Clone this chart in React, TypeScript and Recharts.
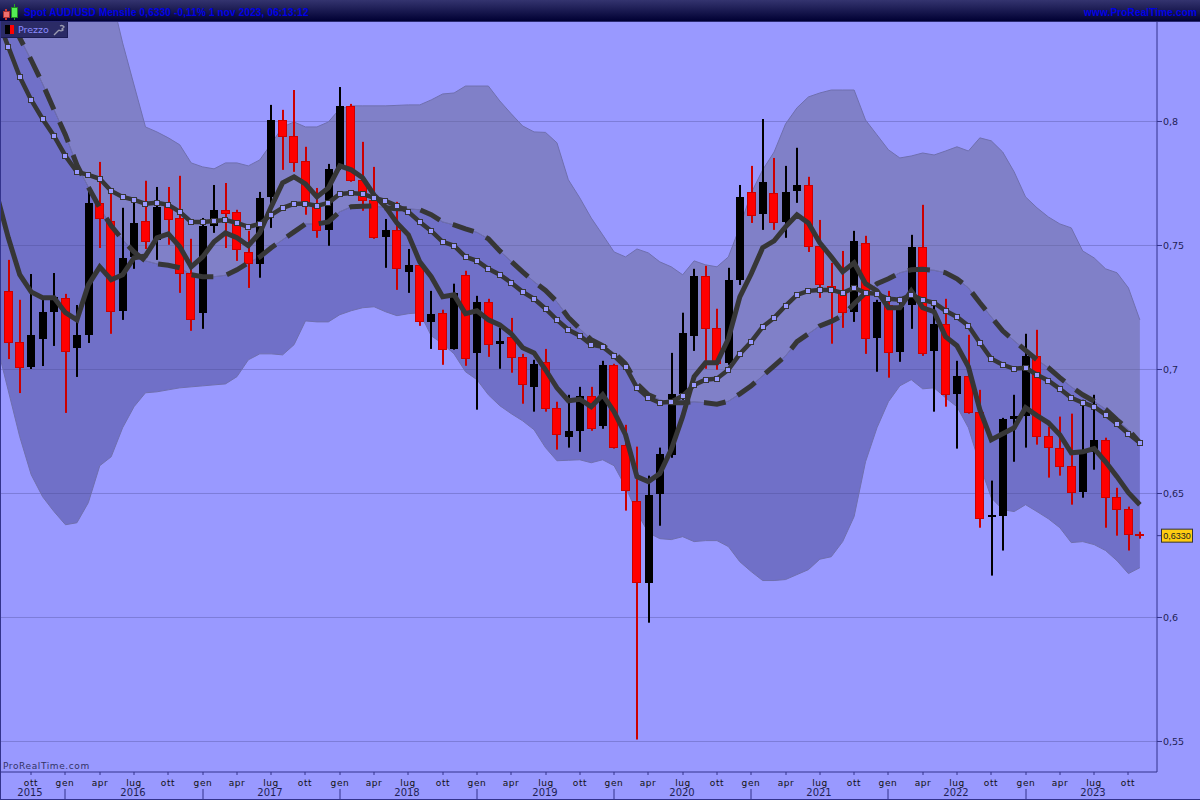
import React from 'react';
import { ComposedChart, Area, Bar, Line, XAxis, YAxis, CartesianGrid } from 'recharts';

const months = [
  'lug15', 'ago15', 'set15', 'ott15', 'nov15', 'dic15',
  'gen16', 'feb16', 'mar16', 'apr16', 'mag16', 'giu16', 'lug16', 'ago16', 'set16', 'ott16', 'nov16', 'dic16',
  'gen17', 'feb17', 'mar17', 'apr17', 'mag17', 'giu17', 'lug17', 'ago17', 'set17', 'ott17', 'nov17', 'dic17',
  'gen18', 'feb18', 'mar18', 'apr18', 'mag18', 'giu18', 'lug18', 'ago18', 'set18', 'ott18', 'nov18', 'dic18',
  'gen19', 'feb19', 'mar19', 'apr19', 'mag19', 'giu19', 'lug19', 'ago19', 'set19', 'ott19', 'nov19', 'dic19',
  'gen20', 'feb20', 'mar20', 'apr20', 'mag20', 'giu20', 'lug20', 'ago20', 'set20', 'ott20', 'nov20', 'dic20',
  'gen21', 'feb21', 'mar21', 'apr21', 'mag21', 'giu21', 'lug21', 'ago21', 'set21', 'ott21', 'nov21', 'dic21',
  'gen22', 'feb22', 'mar22', 'apr22', 'mag22', 'giu22', 'lug22', 'ago22', 'set22', 'ott22', 'nov22', 'dic22',
  'gen23', 'feb23', 'mar23', 'apr23', 'mag23', 'giu23', 'lug23', 'ago23', 'set23', 'ott23', 'nov23', 'dic23',
];

// candles start at ago15
const opens = [
  .7317, .7111, .7010, .7123, .7232, .7289, .7087, .7140, .7672, .7599,
  .7237, .7454, .7599, .7523, .7660, .7611, .7390, .7229, .7579, .7644,
  .7636, .7474, .7426, .7696, .8006, .7942, .7841, .7656, .7563, .7813,
  .8063, .7765, .7684, .7535, .7563, .7394, .7422, .7192, .7229, .7083,
  .7382, .7067, .7273, .7104, .7132, .7051, .6930, .7031, .6846, .6729,
  .6753, .6894, .6773, .7019, .6697, .6471, .6141, .6499, .6656, .6902,
  .7136, .7378, .7168, .7027, .7362, .7716, .7628, .7712, .7595, .7720,
  .7744, .7499, .7337, .7309, .7233, .7511, .7128, .7261, .7071, .7261,
  .7494, .7075, .7184, .6902, .6975, .6830, .6406, .6410, .6801, .6814,
  .7055, .6733, .6685, .6612, .6507, .6668, .6717, .6487, .6439, .6337,
];
const highs = [
  .7442, .7281, .7385, .7289, .7389, .7305, .7260, .7724, .7837, .7712,
  .7652, .7672, .7761, .7736, .7736, .7781, .7527, .7611, .7744, .7752,
  .7644, .7559, .7716, .8067, .8047, .8127, .7898, .7732, .7829, .8139,
  .8071, .7918, .7817, .7607, .7676, .7486, .7442, .7317, .7241, .7346,
  .7398, .7297, .7285, .7168, .7208, .7063, .7039, .7083, .6870, .6898,
  .6930, .6930, .7035, .7023, .6777, .6689, .6572, .6685, .7067, .7229,
  .7406, .7418, .7245, .7410, .7744, .7821, .8010, .7853, .7821, .7894,
  .7777, .7603, .7430, .7478, .7559, .7539, .7281, .7317, .7293, .7543,
  .7664, .7257, .7285, .7035, .7140, .6918, .6552, .6805, .6898, .7144,
  .7160, .6769, .6810, .6822, .6878, .6898, .6725, .6523, .6447, .6346,
];
const lows = [
  .7042, .6905, .7002, .7014, .7095, .6825, .6970, .7107, .7490, .7144,
  .7200, .7406, .7486, .7442, .7503, .7309, .7156, .7164, .7551, .7490,
  .7438, .7329, .7370, .7571, .7805, .7797, .7624, .7531, .7499, .7805,
  .7757, .7640, .7527, .7410, .7321, .7309, .7176, .7083, .7019, .7080,
  .7015, .6838, .7051, .7003, .6987, .6862, .6830, .6830, .6677, .6685,
  .6668, .6753, .6761, .6681, .6431, .5508, .5979, .6370, .6644, .6878,
  .7075, .7003, .6999, .7019, .7341, .7591, .7563, .7563, .7531, .7672,
  .7474, .7289, .7104, .7168, .7192, .7063, .6991, .6967, .7031, .7164,
  .7055, .6830, .6850, .6681, .6822, .6362, .6169, .6270, .6628, .6685,
  .6697, .6564, .6572, .6455, .6483, .6596, .6362, .6330, .6270, .6318,
];
const closes = [
  .7107, .7006, .7140, .7232, .7293, .7071, .7140, .7672, .7607, .7232,
  .7450, .7591, .7515, .7656, .7603, .7385, .7200, .7579, .7644, .7628,
  .7483, .7426, .7692, .8006, .7938, .7833, .7664, .7559, .7809, .8063,
  .7761, .7680, .7531, .7563, .7406, .7422, .7192, .7225, .7080, .7309,
  .7043, .7273, .7100, .7116, .7047, .6938, .7023, .6842, .6737, .6753,
  .6894, .6761, .7019, .6685, .6511, .6141, .6495, .6660, .6902, .7148,
  .7378, .7164, .7023, .7362, .7696, .7620, .7757, .7591, .7716, .7744,
  .7494, .7341, .7317, .7229, .7519, .7124, .7273, .7067, .7253, .7494,
  .7063, .7184, .6898, .6975, .6826, .6398, .6415, .6801, .6814, .7055,
  .6729, .6685, .6608, .6503, .6677, .6717, .6483, .6435, .6334, .6330,
];

// indicator lines and bands start at lug15
const fastMa = [
  .7704, .7531, .7382, .7313, .7289, .7289, .7229, .7200, .7341, .7414, .7362,
  .7382, .7450, .7458, .7531, .7547, .7495, .7414, .7454, .7515, .7551,
  .7531, .7499, .7551, .7656, .7753, .7777, .7748, .7696, .7732, .7821,
  .7805, .7773, .7704, .7656, .7591, .7543, .7434, .7374, .7293, .7301,
  .7225, .7237, .7200, .7180, .7144, .7088, .7067, .6999, .6926, .6874,
  .6880, .6850, .6898, .6830, .6737, .6568, .6548, .6580, .6677, .6810,
  .6971, .7027, .7027, .7124, .7293, .7386, .7491, .7519, .7575, .7624,
  .7591, .7511, .7454, .7394, .7430, .7346, .7317, .7249, .7249, .7317,
  .7249, .7233, .7132, .7096, .7011, .6838, .6717, .6741, .6765, .6846,
  .6814, .6785, .6737, .6664, .6668, .6681, .6628, .6568, .6503, .6455,
];
const midMa = [
  .8421, .8301, .8180, .8087, .8010, .7942, .7861, .7797, .7785, .7769, .7720,
  .7696, .7684, .7668, .7672, .7664, .7636, .7595, .7595, .7599, .7603,
  .7591, .7575, .7587, .7624, .7652, .7668, .7668, .7660, .7672, .7708,
  .7712, .7708, .7692, .7680, .7660, .7636, .7595, .7559, .7515, .7499,
  .7454, .7438, .7406, .7382, .7350, .7313, .7285, .7245, .7200, .7160,
  .7136, .7100, .7092, .7055, .7011, .6926, .6886, .6866, .6870, .6894,
  .6938, .6959, .6963, .6999, .7063, .7112, .7172, .7208, .7257, .7301,
  .7317, .7321, .7321, .7309, .7329, .7309, .7305, .7285, .7281, .7301,
  .7281, .7269, .7237, .7212, .7176, .7108, .7043, .7019, .7003, .7007,
  .6979, .6955, .6922, .6886, .6866, .6850, .6818, .6781, .6741, .6705,
];
const slowMa = [
  .8538, .8442, .8337, .8248, .8152, .8047, .7946, .7825, .7736, .7652, .7579,
  .7523, .7474, .7438, .7426, .7420, .7410, .7382, .7374, .7374, .7380,
  .7402, .7430, .7454, .7491, .7523, .7555, .7587, .7587, .7595, .7636,
  .7656, .7658, .7660, .7652, .7648, .7648, .7644, .7624, .7595, .7583,
  .7567, .7553, .7527, .7478, .7436, .7394, .7354, .7319, .7273, .7210,
  .7164, .7120, .7096, .7067, .7023, .6942, .6898, .6878, .6866, .6866,
  .6870, .6866, .6860, .6872, .6902, .6934, .6975, .7015, .7055, .7112,
  .7144, .7176, .7194, .7217, .7265, .7309, .7346, .7366, .7390, .7402,
  .7404, .7400, .7390, .7366, .7329, .7269, .7212, .7156, .7116, .7077,
  .7039, .7007, .6967, .6930, .6898, .6872, .6840, .6797, .6757, .6705,
];
const upperBand = [
  .9977, .9969, .9945, .9921, .9816, .9667, .9518, .9268, .9010, .8692, .8510,
  .8317, .8147, .7978, .7958, .7934, .7906, .7833, .7817, .7809, .7833,
  .7833, .7821, .7845, .7910, .7978, .7998, .7978, .7978, .7998, .8051,
  .8063, .8063, .8063, .8063, .8065, .8067, .8067, .8087, .8111, .8115,
  .8143, .8143, .8143, .8083, .8031, .7982, .7958, .7956, .7914, .7765,
  .7692, .7611, .7543, .7474, .7454, .7486, .7470, .7434, .7414, .7382,
  .7438, .7422, .7414, .7454, .7575, .7712, .7805, .7877, .7990, .8055,
  .8099, .8115, .8127, .8127, .8127, .8006, .7946, .7886, .7853, .7861,
  .7873, .7865, .7881, .7898, .7881, .7934, .7922, .7877, .7797, .7696,
  .7652, .7615, .7587, .7571, .7478, .7450, .7406, .7390, .7329, .7200,
];
const lowerBand = [
  .7100, .6914, .6729, .6576, .6487, .6427, .6374, .6382, .6463, .6612, .6648,
  .6765, .6850, .6906, .6910, .6918, .6926, .6930, .6934, .6938, .6942,
  .6971, .7039, .7063, .7063, .7059, .7100, .7196, .7192, .7192, .7221,
  .7237, .7249, .7253, .7233, .7217, .7225, .7229, .7136, .7104, .7063,
  .6991, .6959, .6898, .6854, .6822, .6793, .6757, .6685, .6632, .6634,
  .6636, .6624, .6636, .6612, .6527, .6423, .6342, .6318, .6314, .6326,
  .6306, .6310, .6310, .6286, .6225, .6185, .6149, .6149, .6153, .6173,
  .6193, .6235, .6245, .6306, .6407, .6628, .6765, .6870, .6934, .6959,
  .6922, .6926, .6886, .6850, .6765, .6616, .6483, .6435, .6427, .6455,
  .6427, .6398, .6362, .6302, .6306, .6294, .6270, .6229, .6177, .6201,
];

const priceTicks = [0.55, 0.6, 0.65, 0.7, 0.75, 0.8];
const lastPrice = 0.633;
const monthTicks = months.slice(1).filter(m => ['ott', 'gen', 'apr', 'lug'].includes(m.slice(0, 3)));

const rows = months.map((month, i) => {
  const c = i - 1; // candle arrays have no lug15
  const hasCandle = c >= 0 && c < opens.length;
  return {
    month,
    open: hasCandle ? opens[c] : null,
    close: hasCandle ? closes[c] : null,
    high: hasCandle ? highs[c] : null,
    low: hasCandle ? lows[c] : null,
    range: hasCandle ? [lows[c], highs[c]] : null,
    fast: fastMa[i] ?? null,
    mid: midMa[i] ?? null,
    slow: slowMa[i] ?? null,
    upperZone: i < upperBand.length ? [slowMa[i], upperBand[i]] : null,
    lowerZone: i < lowerBand.length ? [lowerBand[i], slowMa[i]] : null,
  };
});

const NAVY = '#33338c';
const LINE = '#363636';
const BG = '#9999ff';

// black candles are rising months, red ones falling
const Candle = (props: any) => {
  const { x, y, width, height, payload } = props;
  if (payload.open == null || !height) return null;
  const top = Math.min(y, y + height);
  const h = Math.abs(height);
  const span = payload.high - payload.low;
  const toY = (v: number) => top + ((payload.high - v) / span) * h;
  const cx = Math.round(x + width / 2);
  const bodyTop = Math.round(toY(Math.max(payload.open, payload.close)));
  const bodyBottom = Math.round(toY(Math.min(payload.open, payload.close)));
  const down = payload.close < payload.open;
  const wick = down ? '#cc0000' : '#000000';
  return (
    <g>
      <rect x={cx - 1} y={top} width={2} height={h} fill={wick} />
      {down ? (
        <rect x={cx - 4.5} y={bodyTop + 0.5} width={8} height={Math.max(bodyBottom - bodyTop - 1, 0.5)} fill="#ff0000" stroke="#cc0000" />
      ) : (
        <rect x={cx - 4} y={bodyTop} width={8} height={Math.max(bodyBottom - bodyTop, 1)} fill="#000000" />
      )}
    </g>
  );
};

const SquareDot = (props: any) => {
  const { cx, cy, index } = props;
  if (cy == null) return <g key={index} />;
  return <rect key={index} x={Math.round(cx) - 2.5} y={Math.round(cy) - 2.5} width={5} height={5} fill={BG} stroke={LINE} strokeWidth={1} />;
};

const MonthTick = (props: any) => {
  const { x, payload } = props;
  const name = payload.value.slice(0, 3);
  const year = '20' + payload.value.slice(3);
  const showYear = name === 'lug' || payload.value === 'ott15';
  const px = Math.round(x);
  return (
    <g>
      <line x1={px} x2={px} y1={772} y2={775} stroke={NAVY} />
      <text x={px} y={786} textAnchor="middle" fontSize={9} letterSpacing={0.6} fontFamily="DejaVu Sans" fill="#111">{name}</text>
      {showYear && <text x={px - 1} y={796} textAnchor="middle" fontSize={10} fontFamily="DejaVu Sans" fill="#222255">{year}</text>}
      {name === 'gen' && <line x1={px} x2={px} y1={789} y2={800} stroke={NAVY} />}
    </g>
  );
};

const PriceTick = (props: any) => {
  const { x, y, payload } = props;
  const label = String(payload.value).replace('.', ',');
  if (payload.value === lastPrice) {
    return (
      <g>
        <rect x={1161.5 + 20} y={y - 6.5} width={31} height={13} fill="#ffcc11" stroke="#333" />
        <text x={1177 + 20} y={y + 3.5} textAnchor="middle" fontSize={9} fontFamily="Liberation Sans" fill="#222">0,6330</text>
      </g>
    );
  }
  return <text x={x} y={y + 4} textAnchor="start" fontSize={9.5} fontFamily="DejaVu Sans" fill="#222255">{label}</text>;
};

export default function App() {
  return (
    <div style={{ position: 'absolute', left: 0, top: 0, width: 1200, height: 800, overflow: 'hidden', background: BG }}>
      <div style={{ position: 'absolute', left: -20, top: 0 }}>
        <ComposedChart width={1220} height={800} data={rows} margin={{ top: 22, right: 0, bottom: 0, left: 11.17 }} barSize={8}>
          <CartesianGrid vertical={false} horizontalValues={priceTicks} stroke="#5c5ca8" strokeOpacity={0.45} />
          <XAxis
            dataKey="month"
            height={28}
            ticks={monthTicks}
            interval={0}
            tickLine={false}
            axisLine={{ stroke: NAVY }}
            tick={<MonthTick />}
          />
          <YAxis
            orientation="right"
            width={43}
            domain={[0.5377, 0.84012]}
            allowDataOverflow
            ticks={[...priceTicks, lastPrice]}
            interval={0}
            tickSize={5}
            tickMargin={1}
            tickLine={{ stroke: NAVY }}
            axisLine={{ stroke: NAVY }}
            tick={<PriceTick />}
          />
          <Area dataKey="upperZone" type="linear" fill="#676791" fillOpacity={0.5} stroke="#6f6fae" strokeWidth={1} isAnimationActive={false} activeDot={false} />
          <Area dataKey="lowerZone" type="linear" fill="#474791" fillOpacity={0.5} stroke="#6f6fae" strokeWidth={1} isAnimationActive={false} activeDot={false} />
          <Bar dataKey="range" shape={<Candle />} isAnimationActive={false} />
          <Line dataKey="slow" type="linear" stroke={LINE} strokeWidth={5} strokeDasharray="22 13.7" strokeDashoffset={-5.1} dot={false} activeDot={false} isAnimationActive={false} />
          <Line dataKey="mid" type="linear" stroke={LINE} strokeWidth={4.5} dot={<SquareDot />} activeDot={false} isAnimationActive={false} />
          <Line dataKey="fast" type="linear" stroke={LINE} strokeWidth={5} dot={false} activeDot={false} isAnimationActive={false} />
        </ComposedChart>
      </div>

      {/* title bar */}
      <div style={{ position: 'absolute', left: 0, top: 0, width: 1200, height: 21, background: 'linear-gradient(#34346f, #000033)', borderBottom: '1px solid #2a2a70', fontFamily: 'Liberation Sans', fontSize: 10, fontWeight: 'bold', color: '#0000e6' }}>
        <div style={{ position: 'absolute', left: 5, top: 9, width: 2, height: 11, background: '#c33' }} />
        <div style={{ position: 'absolute', left: 3, top: 11, width: 5, height: 5, background: '#f07070', border: '1px solid #a33' }} />
        <div style={{ position: 'absolute', left: 14, top: 4, width: 1, height: 16, background: '#2a2' }} />
        <div style={{ position: 'absolute', left: 11, top: 7, width: 5, height: 9, background: '#55ee55', border: '1px solid #282' }} />
        <div style={{ position: 'absolute', left: 24, top: 7, whiteSpace: 'nowrap', letterSpacing: 0.15 }}>Spot AUD/USD Mensile 0,6330 -0,11% 1 nov 2023, 06:13:12</div>
        <div style={{ position: 'absolute', right: 3, top: 7, whiteSpace: 'nowrap', letterSpacing: 0.15 }}>www.ProRealTime.com</div>
      </div>

      {/* indicator legend */}
      <div style={{ position: 'absolute', left: 1, top: 22, width: 66, height: 15, background: '#2b2b66', borderRight: '1px solid #1c1c55', borderBottom: '1px solid #1c1c55', fontFamily: 'DejaVu Sans', fontSize: 9.5, color: '#8a8aff' }}>
        <div style={{ position: 'absolute', left: 4, top: 3, width: 5, height: 9, background: '#000' }} />
        <div style={{ position: 'absolute', left: 9, top: 3, width: 4, height: 9, background: '#ff0000' }} />
        <div style={{ position: 'absolute', left: 17, top: 2, whiteSpace: 'nowrap' }}>Prezzo</div>
        <svg style={{ position: 'absolute', left: 52, top: 2 }} width={12} height={12} viewBox="0 0 12 12">
          <path d="M1 11 L6 6 M7 2 a3 3 0 0 1 4 1 L9 5 L10 6 a3 3 0 0 1 -4 0" fill="none" stroke="#9a9ab0" strokeWidth={1.4} />
        </svg>
      </div>

      <div style={{ position: 'absolute', left: 3, top: 761, fontFamily: 'DejaVu Sans', fontSize: 9, letterSpacing: 0.6, color: '#333366', whiteSpace: 'nowrap' }}>ProRealTime.com</div>
      <div style={{ position: 'absolute', left: 0, top: 21, width: 1, height: 779, background: NAVY }} />
      <div style={{ position: 'absolute', left: 0, top: 799, width: 1200, height: 1, background: NAVY }} />
    </div>
  );
}
